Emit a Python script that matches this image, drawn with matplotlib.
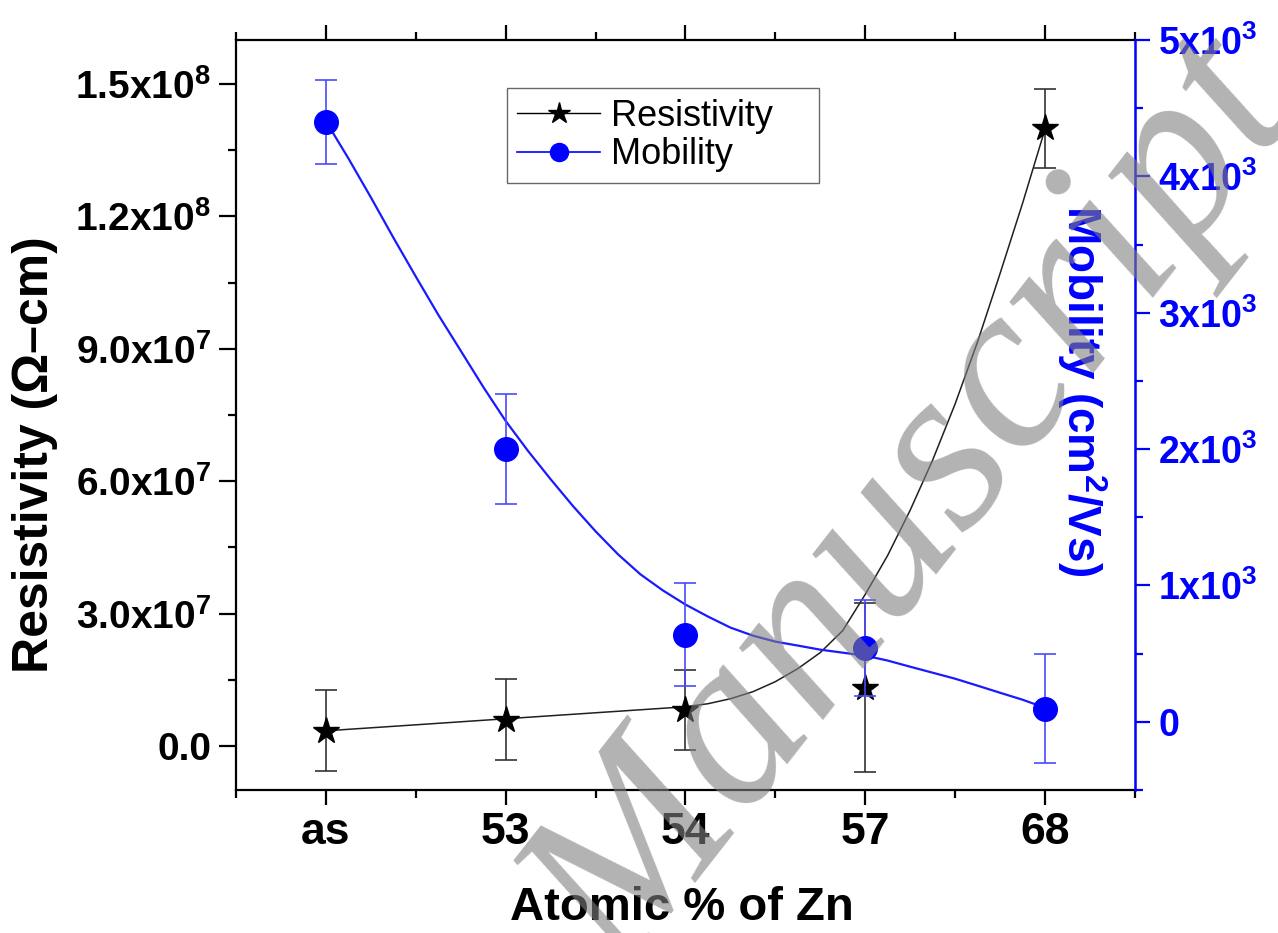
import matplotlib
matplotlib.use("Agg")
import matplotlib.pyplot as plt
from matplotlib.ticker import MultipleLocator
import numpy as np

plt.rcParams.update({
    "font.family": "Liberation Sans",
    "mathtext.fontset": "custom",
    "mathtext.rm": "Liberation Sans:bold",
    "mathtext.bf": "Liberation Sans:bold",
    "mathtext.it": "Liberation Sans:bold",
})

# ---------------------------------------------------------------------------
# Data
# ---------------------------------------------------------------------------
categories = ["as", "53", "54", "57", "68"]
resistivity = [3.4e6, 5.9e6, 8.2e6, 1.32e7, 1.40e8]
resistivity_err = [9.2e6, 9.2e6, 9.1e6, 1.91e7, 9.0e6]
mobility = [4400, 2000, 640, 540, 95]
mobility_err = [310, 405, 375, 350, 400]

# smooth fit curves
res_fit_x = [1.0, 1.5, 2.0, 2.5, 3.0, 3.125, 3.25, 3.375, 3.5, 3.625, 3.75,
             3.875, 4.0, 4.125, 4.25, 4.375, 4.5, 4.625, 4.75, 4.875, 5.0]
res_fit_y = [3.41e6, 4.77e6, 6.14e6, 7.5e6, 8.86e6, 9.55e6, 1.068e7, 1.227e7,
             1.455e7, 1.75e7, 2.114e7, 2.614e7, 3.432e7, 4.318e7, 5.341e7,
             6.477e7, 7.75e7, 9.159e7, 1.0705e8, 1.2295e8, 1.3977e8]
mob_fit_x = [1.0, 1.125, 1.25, 1.375, 1.5, 1.625, 1.75, 1.875, 2.0, 2.125,
             2.25, 2.375, 2.5, 2.625, 2.75, 2.875, 3.0, 3.125, 3.25, 3.375,
             3.5, 3.625, 3.75, 3.875, 4.0, 4.125, 4.25, 4.375, 4.5, 4.625,
             4.75, 4.875, 5.0]
mob_fit_y = [4404, 4132, 3846, 3551, 3265, 2985, 2721, 2456, 2206, 1985,
             1779, 1581, 1397, 1228, 1081, 963, 860, 772, 691, 632,
             588, 559, 529, 507, 485, 449, 404, 360, 316, 265,
             213, 162, 103]

res_ticks = [0, 3e7, 6e7, 9e7, 1.2e8, 1.5e8]
res_ticklabels = ["0.0", r"3.0x10$^{7}$", r"6.0x10$^{7}$", r"9.0x10$^{7}$",
                  r"1.2x10$^{8}$", r"1.5x10$^{8}$"]
mob_ticks = [0, 1000, 2000, 3000, 4000, 5000]
mob_ticklabels = ["0", r"1x10$^{3}$", r"2x10$^{3}$", r"3x10$^{3}$",
                  r"4x10$^{3}$", r"5x10$^{3}$"]

BLUE = "#0000ff"

fig = plt.figure(figsize=(12.78, 9.33), dpi=100)
ax = fig.add_axes([0.1847, 0.1533, 0.7033, 0.8038])
ax2 = ax.twinx()

x = np.arange(1, len(categories) + 1)

# resistivity
ax.plot(res_fit_x, res_fit_y, color="#202020", lw=1.1, zorder=2)
ax.errorbar(x, resistivity, yerr=resistivity_err, fmt="none", ecolor="#333333",
            elinewidth=1.2, capsize=8, capthick=1.2, zorder=3)
ax.plot(x, resistivity, ls="none", marker="*", ms=20, color="black", zorder=4)

# mobility
ax2.plot(mob_fit_x, mob_fit_y, color="#1a1aff", lw=1.6, zorder=2)
ax2.errorbar(x, mobility, yerr=mobility_err, fmt="none", ecolor="#4a4aff",
             elinewidth=1.2, capsize=8, capthick=1.2, zorder=3)
ax2.plot(x, mobility, ls="none", marker="o", ms=17, color=BLUE, zorder=4)

# axes limits & ticks
ax.set_xlim(0.5, 5.5)
ax.set_ylim(-1e7, 1.6e8)
ax2.set_ylim(-500, 5000)

ax.set_xticks(x)
ax.set_xticklabels(categories, fontsize=32, fontweight="bold")
ax.xaxis.set_minor_locator(MultipleLocator(0.5))
ax.set_yticks(res_ticks)
ax.set_yticklabels(res_ticklabels, fontsize=28, fontweight="bold")
ax.yaxis.set_minor_locator(MultipleLocator(1.5e7))
ax2.set_yticks(mob_ticks)
ax2.set_yticklabels(mob_ticklabels, fontsize=27, fontweight="bold", color=BLUE)
ax2.yaxis.set_minor_locator(MultipleLocator(500))

ax.tick_params(axis="x", which="both", direction="out", top=True, width=1.6)
ax.tick_params(axis="x", which="major", length=11, pad=5)
ax.tick_params(axis="x", which="minor", length=5.5)
ax.tick_params(axis="y", which="both", direction="out", right=False, width=1.6)
ax.tick_params(axis="y", which="major", length=12, pad=6)
ax.tick_params(axis="y", which="minor", length=6)
ax2.tick_params(axis="y", which="both", direction="out", color=BLUE, width=1.6)
ax2.tick_params(axis="y", which="major", length=11, pad=6)
ax2.tick_params(axis="y", which="minor", length=6)

for s in ("left", "bottom", "top"):
    ax.spines[s].set_linewidth(1.6)
ax2.spines["right"].set_color(BLUE)
ax2.spines["right"].set_linewidth(1.8)
ax2.spines["left"].set_visible(False)
ax2.spines["top"].set_visible(False)
ax2.spines["bottom"].set_visible(False)

ax.set_xlabel("Atomic % of Zn", fontsize=34, fontweight="bold", va="center")
ax.xaxis.set_label_coords(0.496, -0.158)
ax.set_ylabel("Resistivity (\u03a9\u2013cm)", fontsize=36, fontweight="bold",
              va="center", ha="center")
ax.yaxis.set_label_coords(-0.224, 0.447)
ax2.set_ylabel(r"Mobility (cm$^{2}$/Vs)", fontsize=33, fontweight="bold",
               color=BLUE, rotation=270, va="center", ha="center")
ax2.yaxis.set_label_coords(0.941, 0.533)

# legend
h1, = ax.plot([], [], color="black", lw=1.0, marker="*", ms=16, label="Resistivity")
h2, = ax.plot([], [], color=BLUE, lw=1.2, marker="o", ms=13, label="Mobility")
leg = ax.legend(handles=[h1, h2], loc="upper left",
                bbox_to_anchor=(0.301, 0.797, 0.348, 0.139), mode="expand",
                fontsize=26, frameon=True, fancybox=False, handlelength=2.3,
                handletextpad=0.3, borderpad=0.3, labelspacing=0.1,
                borderaxespad=0)
leg.get_frame().set_edgecolor("#444444")
leg.get_frame().set_linewidth(1.0)

# watermark
fig.text(0.718, 0.455, "Manuscript", fontsize=172, family="Liberation Serif",
         style="italic", color="#808080", alpha=0.6, rotation=52,
         ha="center", va="center", zorder=10)

fig.savefig("out.png", dpi=100)
